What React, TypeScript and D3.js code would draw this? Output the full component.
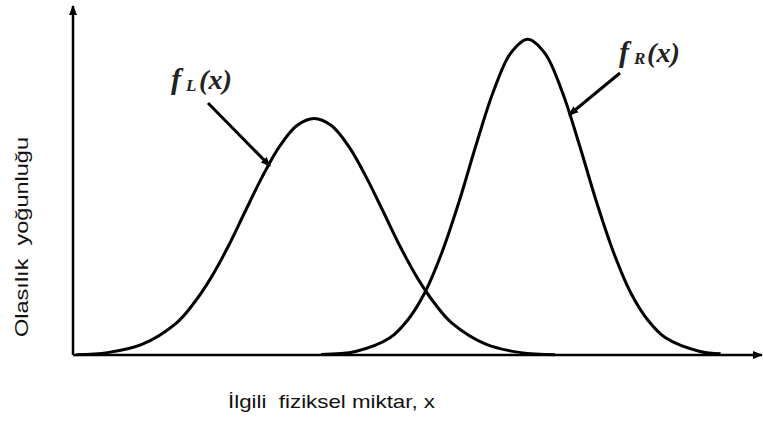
import React, { useEffect, useRef } from 'react';
import * as d3 from 'd3';

// points (x in axis units, y = density)
const leftX = [0.05, 0.5, 1.0, 1.5, 1.75, 2.0, 2.25, 2.5, 2.75, 3.0, 3.25, 3.5, 3.75, 4.0, 4.25, 4.5, 4.75, 5.0, 5.25, 5.5, 6.0, 6.5, 7.0];
const leftY = [0.0005, 0.004, 0.018, 0.054, 0.087, 0.13, 0.183, 0.243, 0.302, 0.353, 0.388, 0.4, 0.388, 0.353, 0.302, 0.243, 0.183, 0.13, 0.087, 0.054, 0.018, 0.004, 0.0005];

const rightX = [3.6, 4.1, 4.6, 4.85, 5.1, 5.35, 5.6, 5.85, 6.1, 6.35, 6.6, 6.85, 7.1, 7.35, 7.6, 7.85, 8.1, 8.35, 8.6, 9.1, 9.4];
const rightY = [0.001, 0.006, 0.029, 0.058, 0.104, 0.172, 0.258, 0.355, 0.445, 0.51, 0.534, 0.51, 0.445, 0.355, 0.258, 0.172, 0.104, 0.058, 0.029, 0.006, 0.002];

const yLabel = 'Olasılık  yoğunluğu';
const xLabel = 'İlgili  fiziksel miktar, x';

const App = () => {
  const svgRef = useRef(null);

  useEffect(() => {
    document.body.style.margin = '0';
    const width = 763;
    const height = 421;

    const x = d3.scaleLinear().domain([0, 10]).range([73, 762]);
    const y = d3.scaleLinear().domain([0, 0.59]).range([355, 6]);

    const svg = d3.select(svgRef.current)
      .attr('width', width)
      .attr('height', height);

    svg.selectAll('*').remove();

    const defs = svg.append('defs');
    defs.append('marker')
      .attr('id', 'head')
      .attr('viewBox', '0 0 10 10')
      .attr('refX', 9)
      .attr('refY', 5)
      .attr('markerWidth', 10)
      .attr('markerHeight', 10)
      .attr('markerUnits', 'userSpaceOnUse')
      .attr('orient', 'auto')
      .append('path')
      .attr('d', 'M0,1 L10,5 L0,9 Z')
      .attr('fill', '#000');

    // axes
    svg.append('line')
      .attr('x1', x(0)).attr('y1', y(0))
      .attr('x2', x(0)).attr('y2', y(0.59))
      .attr('stroke', '#000')
      .attr('stroke-width', 2.5)
      .attr('marker-end', 'url(#head)');

    svg.append('line')
      .attr('x1', x(0)).attr('y1', y(0))
      .attr('x2', x(10)).attr('y2', y(0))
      .attr('stroke', '#000')
      .attr('stroke-width', 2.5)
      .attr('marker-end', 'url(#head)');

    const line = d3.line()
      .x(d => x(d[0]))
      .y(d => y(d[1]))
      .curve(d3.curveCatmullRom);

    svg.append('path')
      .datum(leftX.map((v, i) => [v, leftY[i]]))
      .attr('fill', 'none')
      .attr('stroke', '#000')
      .attr('stroke-width', 3)
      .attr('d', line);

    svg.append('path')
      .datum(rightX.map((v, i) => [v, rightY[i]]))
      .attr('fill', 'none')
      .attr('stroke', '#000')
      .attr('stroke-width', 3)
      .attr('d', line);

    // curve labels, f + subscript + (x)
    const addLabel = (tx, ty, sub) => {
      const g = svg.append('g')
        .attr('font-family', '"Liberation Serif", serif')
        .attr('font-style', 'italic')
        .attr('font-weight', 'bold')
        .attr('fill', '#222');
      g.append('text').attr('x', tx).attr('y', ty).attr('font-size', 30).text('f');
      g.append('text').attr('x', tx + 15).attr('y', ty + 2).attr('font-size', 17).text(sub);
      g.append('text').attr('x', tx + 28).attr('y', ty).attr('font-size', 27)
        .attr('textLength', 33).attr('lengthAdjust', 'spacingAndGlyphs').text('(x)');
    };
    addLabel(171, 89, 'L');
    addLabel(619, 62, 'R');

    svg.append('line')
      .attr('x1', 208).attr('y1', 103)
      .attr('x2', 270).attr('y2', 166)
      .attr('stroke', '#000')
      .attr('stroke-width', 3)
      .attr('marker-end', 'url(#head)');

    svg.append('line')
      .attr('x1', 620).attr('y1', 73)
      .attr('x2', 569).attr('y2', 115)
      .attr('stroke', '#000')
      .attr('stroke-width', 3)
      .attr('marker-end', 'url(#head)');

    // axis titles
    svg.append('text')
      .attr('transform', 'translate(28,237) rotate(-90)')
      .attr('text-anchor', 'middle')
      .attr('font-family', '"Liberation Sans", Arial, sans-serif')
      .attr('font-size', 18)
      .attr('textLength', 200)
      .attr('lengthAdjust', 'spacingAndGlyphs')
      .style('white-space', 'pre')
      .attr('fill', '#111')
      .text(yLabel);

    svg.append('text')
      .attr('x', 228)
      .attr('y', 408)
      .attr('font-family', '"Liberation Sans", Arial, sans-serif')
      .attr('font-size', 19)
      .attr('textLength', 207)
      .attr('lengthAdjust', 'spacingAndGlyphs')
      .style('white-space', 'pre')
      .attr('fill', '#111')
      .text(xLabel);
  }, []);

  return (
    <svg ref={svgRef} style={{ display: 'block' }}></svg>
  );
};

export default App;
